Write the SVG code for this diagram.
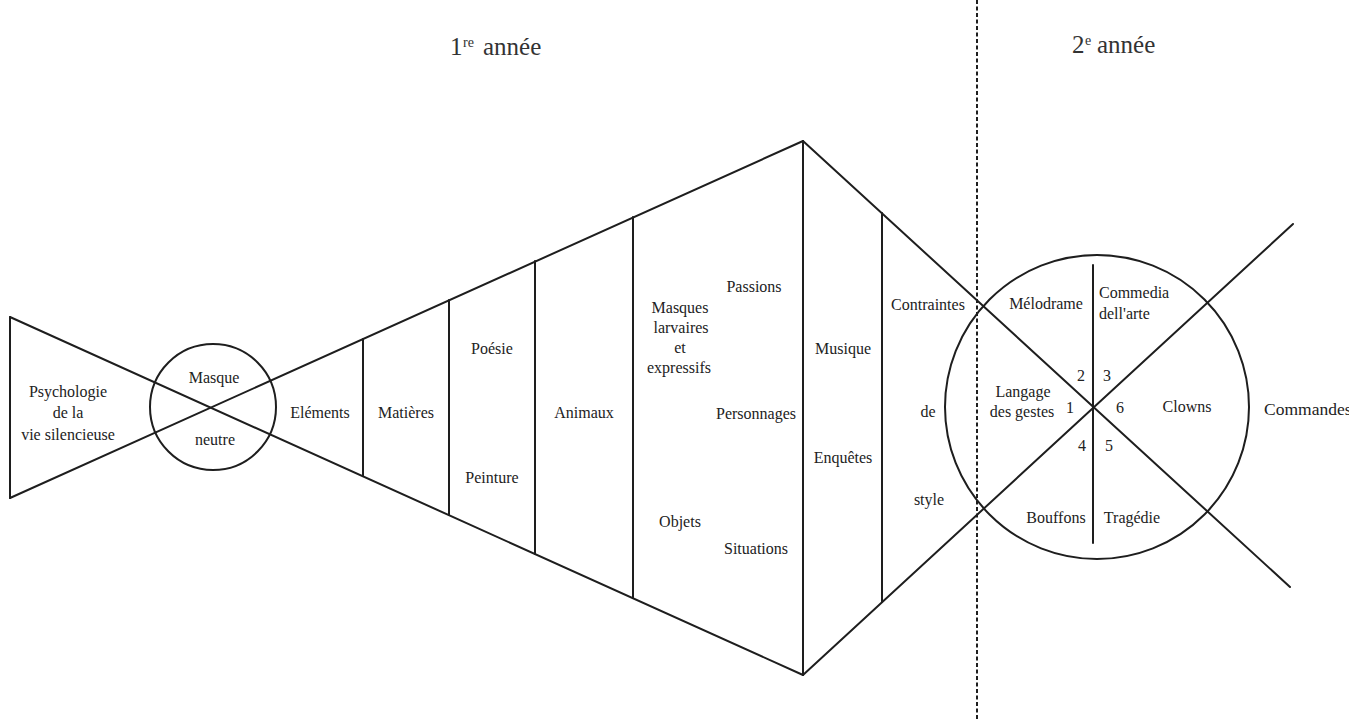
<svg xmlns="http://www.w3.org/2000/svg" width="1349" height="720" viewBox="0 0 1349 720">
<style>
.ln{stroke:#1e1e1e;stroke-width:2;fill:none;stroke-linecap:round}
.t{font-family:"Liberation Serif","Times New Roman",serif;font-size:16px;fill:#222;text-anchor:middle}
.tl{font-family:"Liberation Serif","Times New Roman",serif;font-size:16px;fill:#222}
.h{font-family:"Liberation Serif","Times New Roman",serif;font-size:25px;fill:#333}
.sup{font-family:"Liberation Serif","Times New Roman",serif;font-size:14px;fill:#333}
</style>
<rect width="1349" height="720" fill="#fff"/>
<g id="titles">
  <text class="h" x="450" y="55">1</text><text class="sup" x="463" y="47">re</text><text class="h" x="483" y="55">année</text>
  <text class="h" x="1072" y="53">2</text><text class="sup" x="1085" y="45">e</text><text class="h" x="1097" y="53">année</text>
</g>
<g id="connectors">
  <line class="ln" x1="10" y1="317" x2="803" y2="675"/>
  <line class="ln" x1="10" y1="498" x2="803" y2="141"/>
  <line class="ln" x1="803" y1="141" x2="1290" y2="587"/>
  <line class="ln" x1="803" y1="675" x2="1293" y2="224"/>
  <line x1="977" y1="0" x2="977" y2="720" stroke="#1e1e1e" stroke-width="2" stroke-dasharray="4 2.5"/>
</g>
<g id="psychologie">
  <line class="ln" x1="10" y1="317" x2="10" y2="498"/>
  <text class="t" x="68" y="397">Psychologie</text>
  <text class="t" x="68" y="418">de la</text>
  <text class="t" x="68" y="440">vie silencieuse</text>
</g>
<g id="masque-neutre">
  <circle class="ln" cx="213" cy="407" r="63"/>
  <text class="t" x="214" y="383">Masque</text>
  <text class="t" x="215" y="445">neutre</text>
</g>
<g id="elements">
  <text class="t" x="320" y="418">Eléments</text>
  <line class="ln" x1="363" y1="339" x2="363" y2="476"/>
</g>
<g id="matieres">
  <text class="t" x="406" y="418">Matières</text>
  <line class="ln" x1="449" y1="300" x2="449" y2="515"/>
</g>
<g id="poesie-peinture">
  <text class="t" x="492" y="354">Poésie</text>
  <text class="t" x="492" y="483">Peinture</text>
  <line class="ln" x1="535" y1="261" x2="535" y2="554"/>
</g>
<g id="animaux">
  <text class="t" x="584" y="418">Animaux</text>
  <line class="ln" x1="633" y1="217" x2="633" y2="598"/>
</g>
<g id="masques-larvaires">
  <text class="t" x="680" y="313">Masques</text>
  <text class="t" x="681" y="333">larvaires</text>
  <text class="t" x="680" y="353">et</text>
  <text class="t" x="679" y="373">expressifs</text>
  <text class="t" x="680" y="527">Objets</text>
  <text class="t" x="754" y="292">Passions</text>
  <text class="t" x="756" y="419">Personnages</text>
  <text class="t" x="756" y="554">Situations</text>
  <line class="ln" x1="803" y1="141" x2="803" y2="675"/>
</g>
<g id="musique-enquetes">
  <text class="t" x="843" y="354">Musique</text>
  <text class="t" x="843" y="463">Enquêtes</text>
  <line class="ln" x1="882" y1="213" x2="882" y2="602"/>
</g>
<g id="contraintes">
  <text class="t" x="928" y="310">Contraintes</text>
  <text class="t" x="928" y="417">de</text>
  <text class="t" x="929" y="505">style</text>
</g>
<g id="cercle-2e-annee">
  <circle class="ln" cx="1097" cy="407" r="152"/>
  <line class="ln" x1="1093" y1="265" x2="1093" y2="543"/>
  <text class="t" x="1046" y="309">Mélodrame</text>
  <text class="tl" x="1099" y="298">Commedia</text>
  <text class="tl" x="1099" y="319">dell'arte</text>
  <text class="t" x="1023" y="397">Langage</text>
  <text class="t" x="1022" y="417">des gestes</text>
  <text class="t" x="1187" y="412">Clowns</text>
  <text class="t" x="1056" y="523">Bouffons</text>
  <text class="t" x="1132" y="523">Tragédie</text>
  <text class="t" x="1070" y="413">1</text>
  <text class="t" x="1081" y="381">2</text>
  <text class="t" x="1107" y="381">3</text>
  <text class="t" x="1082" y="451">4</text>
  <text class="t" x="1109" y="451">5</text>
  <text class="t" x="1120" y="413">6</text>
</g>
<g id="commandes">
  <text class="tl" x="1264" y="415" style="font-size:17.5px">Commandes</text>
</g>
</svg>
